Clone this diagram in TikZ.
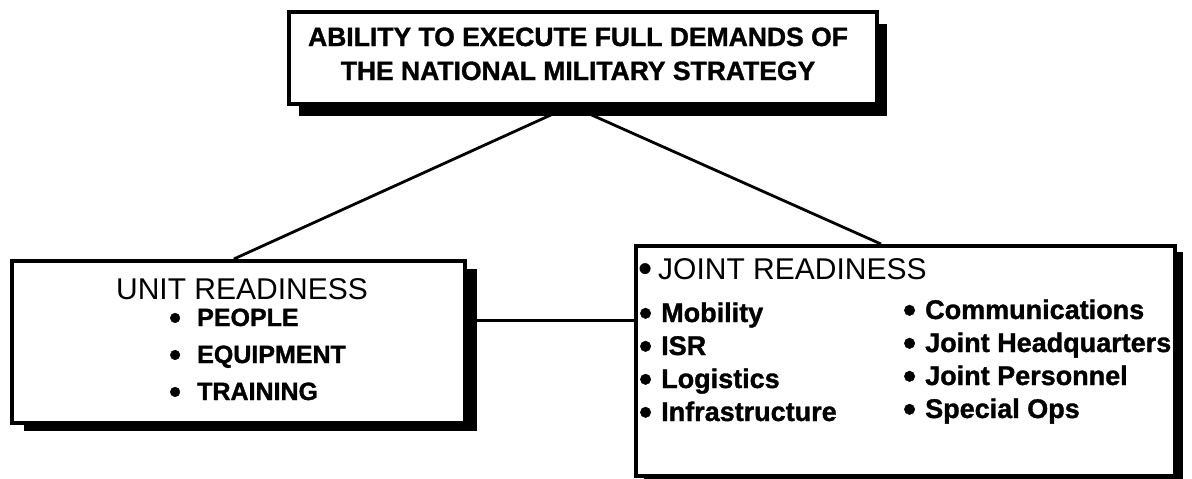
\documentclass[tikz,border=0pt]{standalone}
\usepackage{fontspec}
\usepackage{graphicx}
\setmainfont{Liberation Sans}[BoldFeatures={FakeBold=1.2}]
\usetikzlibrary{shadows,calc}
\newcommand\bigbul{\raisebox{-0.124em}{\scalebox{1.35}{\textbullet}}}
\newcommand\bul[1]{\makebox[#1][l]{\bigbul}}
\begin{document}
\begin{tikzpicture}[x=1pt,y=-1pt,
  box/.style={draw=black, line width=3.8pt, fill=white, inner sep=0pt, anchor=north west},
  conn/.style={line width=2.8pt},
  txt/.style={anchor=base west, inner sep=0pt},
  ctxt/.style={anchor=base, inner sep=0pt},
  headfont/.style={font=\fontsize{26.5}{30}\selectfont\bfseries},
  bigfont/.style={font=\fontsize{30}{34}\selectfont},
  itemfont/.style={font=\fontsize{25}{30}\selectfont\bfseries},
  jfont/.style={font=\fontsize{27}{31}\selectfont\bfseries}]
\useasboundingbox (0,0) rectangle (1192,479);
% boxes
\node[box, minimum width=588pt, minimum height=92pt,
  drop shadow={shadow xshift=10pt, shadow yshift=-12pt, opacity=1, fill=black}] (top) at (287,10) {};
\node[box, minimum width=453pt, minimum height=162pt,
  drop shadow={shadow xshift=12pt, shadow yshift=-8pt, opacity=1, fill=black}] (unit) at (10,259) {};
\node[box, minimum width=539pt, minimum height=230pt,
  drop shadow={shadow xshift=8pt, shadow yshift=-6pt, opacity=1, fill=black}] (joint) at (634,244) {};
% connectors
\coordinate (apex) at ($(top.south west)!0.48!(top.south east)$);
\coordinate (ul) at ($(unit.north west)!0.49!(unit.north east)$);
\coordinate (jl) at ($(joint.north west)!0.455!(joint.north east)$);
\coordinate (ur) at ($(unit.north east)!0.37!(unit.south east)$);
\draw[conn] (apex) -- (ul);
\draw[conn] (apex) -- (jl);
\draw[conn] (ur) -- (ur -| joint.west);
% top text
\node[ctxt, headfont] (t1) at (578,46) {ABILITY TO EXECUTE FULL DEMANDS OF};
\node[ctxt, headfont] (t2) at (578,80) {THE NATIONAL MILITARY STRATEGY};
% unit readiness
\node[ctxt, bigfont] (uh) at (242,299) {UNIT READINESS};
\node[txt, itemfont] (u1) at (169,326) {\bul{28pt}PEOPLE};
\node[txt, itemfont] (u2) at (169,363) {\bul{28pt}EQUIPMENT};
\node[txt, itemfont] (u3) at (169,400) {\bul{28pt}TRAINING};
% joint readiness
\node[txt, bigfont] (jh) at (638,279) {\bul{20pt}JOINT READINESS};
\node[txt, jfont] (j1) at (639,322) {\bul{22pt}Mobility};
\node[txt, jfont] (j2) at (639,355) {\bul{22pt}ISR};
\node[txt, jfont] (j3) at (639,388) {\bul{22pt}Logistics};
\node[txt, jfont] (j4) at (639,421) {\bul{22pt}Infrastructure};
\node[txt, jfont] (k1) at (903,319) {\bul{22pt}Communications};
\node[txt, jfont] (k2) at (903,352) {\bul{22pt}Joint Headquarters};
\node[txt, jfont] (k3) at (903,385) {\bul{22pt}Joint Personnel};
\node[txt, jfont] (k4) at (903,418) {\bul{22pt}Special Ops};
\end{tikzpicture}
\end{document}
